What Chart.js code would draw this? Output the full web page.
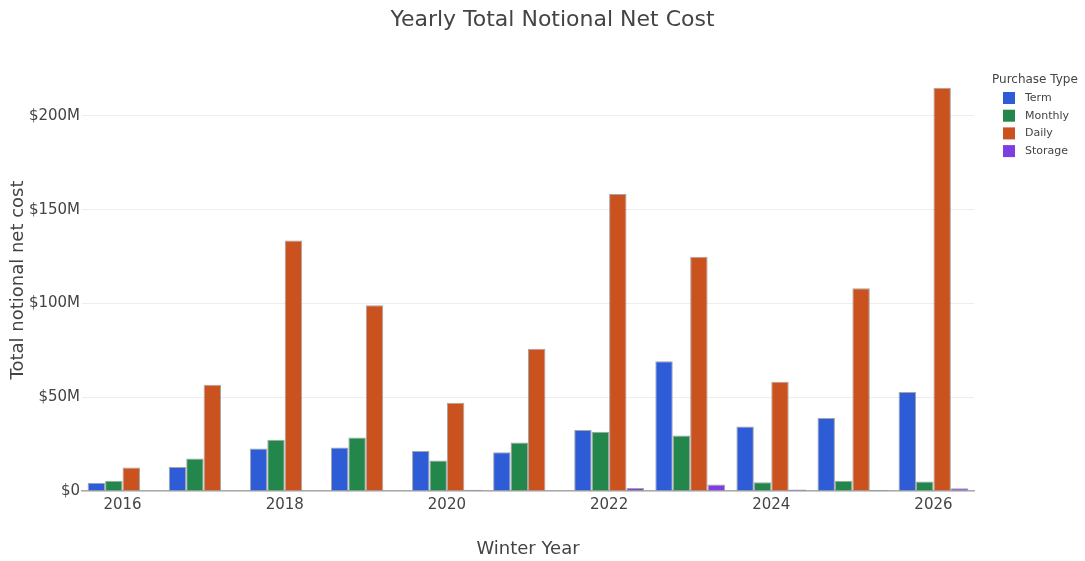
<!DOCTYPE html>
<html>
<head>
<meta charset="utf-8">
<script src="https://cdn.jsdelivr.net/npm/chart.js@4"></script>
<style>
  html, body { margin: 0; padding: 0; background: #fff; }
  #wrap { width: 1085px; height: 561px; }
</style>
</head>
<body>
<div id="wrap"><canvas id="myBarChart"></canvas></div>
<script>
// datos (millones de dolares)
const years = ['2016', '2017', '2018', '2019', '2020', '2021', '2022', '2023', '2024', '2025', '2026'];
const termCost = [4.4, 12.8, 22.6, 23.2, 21.3, 20.7, 32.5, 69.2, 34.4, 38.9, 52.8];
const monthlyCost = [5.5, 17.3, 27.3, 28.5, 16.3, 25.9, 31.6, 29.6, 4.6, 5.5, 5.0];
const dailyCost = [12.5, 56.7, 133.5, 99.0, 47.0, 75.8, 158.3, 124.9, 58.2, 108.1, 215.0];
const storageCost = [0, 0, 0, 0, 0.6, 0.3, 1.6, 3.4, 0.8, 0.5, 1.4];
const yTicks = [0, 50, 100, 150, 200];

const FONT = "'DejaVu Sans', Verdana, sans-serif";
const TXT = '#444';

/* leyenda a la derecha, como la del original */
const sideLegend = {
    id: 'sideLegend',
    afterDraw(chart) {
        const ctx = chart.ctx;
        const x0 = chart.chartArea.right + 18;
        ctx.save();
        ctx.textBaseline = 'middle';
        ctx.textAlign = 'left';
        ctx.fillStyle = TXT;
        ctx.font = '12px ' + FONT;
        ctx.fillText('Purchase Type', x0, 80);
        ctx.font = '11px ' + FONT;
        chart.data.datasets.forEach((ds, i) => {
            const y = 98 + i * 17.7;
            ctx.fillStyle = ds.backgroundColor;
            ctx.fillRect(x0 + 11, y - 6, 12, 12);
            ctx.fillStyle = TXT;
            ctx.fillText(ds.label, x0 + 33, y);
        });
        ctx.restore();
    }
};

const ctx = document.getElementById('myBarChart').getContext('2d');

const myChart = new Chart(ctx, {
    type: 'bar',
    data: {
        labels: years,
        datasets: [
            { label: 'Term', data: termCost, backgroundColor: '#2e5bd6' },
            { label: 'Monthly', data: monthlyCost, backgroundColor: '#23864a' },
            { label: 'Daily', data: dailyCost, backgroundColor: '#c9521f' },
            { label: 'Storage', data: storageCost, backgroundColor: '#7d3fe0' }
        ].map(d => Object.assign(d, {
            borderColor: 'rgba(90,90,90,0.55)',
            borderWidth: 1,
            categoryPercentage: 0.86,
            barPercentage: 1.0
        }))
    },
    options: {
        responsive: true,
        maintainAspectRatio: false,
        animation: false,
        layout: { padding: { left: 20, right: 0, top: 0, bottom: 0 } },
        plugins: {
            legend: { display: false },
            tooltip: { enabled: false },
            title: {
                display: true,
                text: 'Yearly Total Notional Net Cost',
                color: TXT,
                font: { family: FONT, size: 22, weight: 'normal' },
                padding: { top: 7, bottom: 35.6 }
            }
        },
        scales: {
            x: {
                grid: { display: false },
                border: { display: true, color: '#aaa', width: 1.5 },
                ticks: {
                    autoSkip: false,
                    maxRotation: 0,
                    color: TXT,
                    padding: -3,
                    font: { family: FONT, size: 15 },
                    callback: function (v, i) { return i % 2 === 0 ? this.getLabelForValue(v) : ''; }
                },
                title: {
                    display: true,
                    text: 'Winter Year',
                    color: TXT,
                    font: { family: FONT, size: 18 },
                    padding: { top: 0, bottom: 1 }
                },
                afterFit: s => { s.height = 70; }
            },
            y: {
                min: 0,
                max: 225,
                grid: { color: '#eeeeee', drawTicks: false },
                border: { display: false },
                afterBuildTicks: s => { s.ticks = yTicks.map(v => ({ value: v })); },
                ticks: {
                    color: TXT,
                    padding: 2,
                    font: { family: FONT, size: 15 },
                    callback: v => v === 0 ? '$0' : '$' + v + 'M'
                },
                title: {
                    display: true,
                    text: 'Total notional net cost',
                    color: TXT,
                    font: { family: FONT, size: 18 },
                    padding: { top: -12, bottom: 0 }
                },
                afterFit: s => { s.width = 62; }
            },
            // espacio reservado para la leyenda
            legendSpace: {
                type: 'linear',
                position: 'right',
                min: 0,
                max: 225,
                grid: { display: false },
                border: { display: false },
                ticks: { display: false },
                afterFit: s => { s.width = 111; }
            }
        }
    },
    plugins: [sideLegend]
});
</script>
</body>
</html>
